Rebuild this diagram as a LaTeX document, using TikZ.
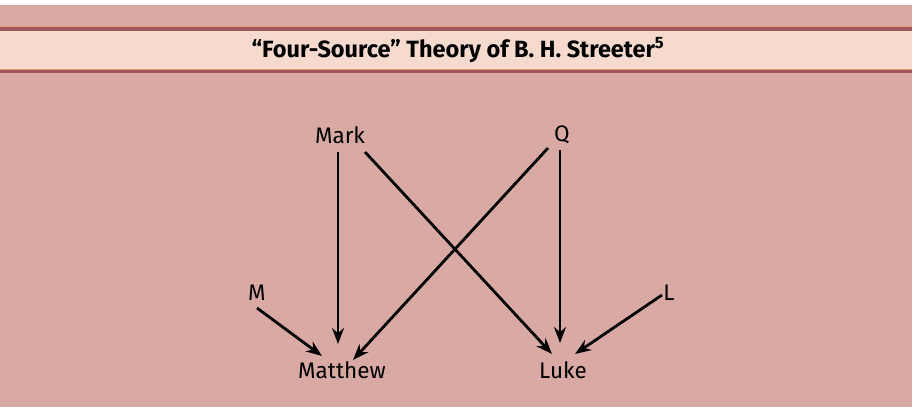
\documentclass[tikz,border=0pt]{standalone}
\usepackage{fontspec}
\setmainfont{Fira Sans}
\usetikzlibrary{arrows.meta}
\definecolor{panel}{HTML}{D9A9A3}
\definecolor{band}{HTML}{F6DACD}
\definecolor{rule}{HTML}{A4545C}
\definecolor{ruleor}{HTML}{E8A070}
\tikzset{
  lbl/.style={font=\fontsize{22.5}{25}\selectfont, inner sep=1pt},
  arr/.style={line width=2.8pt, -{Stealth[length=16pt,width=12pt]}}
}
\begin{document}
\begin{tikzpicture}[x=1pt,y=-1pt]
\useasboundingbox (0,0) rectangle (919,414);
\fill[white] (0,0) rectangle (919,414);
\fill[panel] (0,5) rectangle (912,407);
\fill[band] (0,30) rectangle (912,71);
\fill[ruleor] (0,26) rectangle (912,27.5);
\fill[rule] (0,27.5) rectangle (912,31);
\fill[ruleor] (0,69) rectangle (912,70.5);
\fill[rule] (0,70.5) rectangle (912,73.5);
\node[font=\fontsize{23.5}{26}\selectfont\bfseries] (title) at (458,50) {“Four-Source” Theory of B. H. Streeter\textsuperscript{5}};
\node[lbl] (mark) at (340,135) {Mark};
\node[lbl] (q) at (562,135) {Q};
\node[lbl] (m) at (257,293) {M};
\node[lbl] (l) at (669,293) {L};
\node[lbl] (matt) at (342,370) {Matthew};
\node[lbl] (luke) at (563,370) {Luke};
\coordinate (mk1) at (338,152);
\coordinate (mk2) at (365,152);
\coordinate (q1) at (548,148);
\coordinate (q2) at (560,150);
\coordinate (m1) at (257,308);
\coordinate (l1) at (662,295);
\coordinate (mt1) at (338,344);
\coordinate (mt2) at (353,360);
\coordinate (mt3) at (322,356);
\coordinate (lk1) at (552,354);
\coordinate (lk2) at (560,343);
\coordinate (lk3) at (575,354);
\draw[arr] (mk1) -- (mt1);
\draw[arr] (mk2) -- (lk1);
\draw[arr] (q1) -- (mt2);
\draw[arr] (q2) -- (lk2);
\draw[arr] (m1) -- (mt3);
\draw[arr] (l1) -- (lk3);
\end{tikzpicture}
\end{document}
